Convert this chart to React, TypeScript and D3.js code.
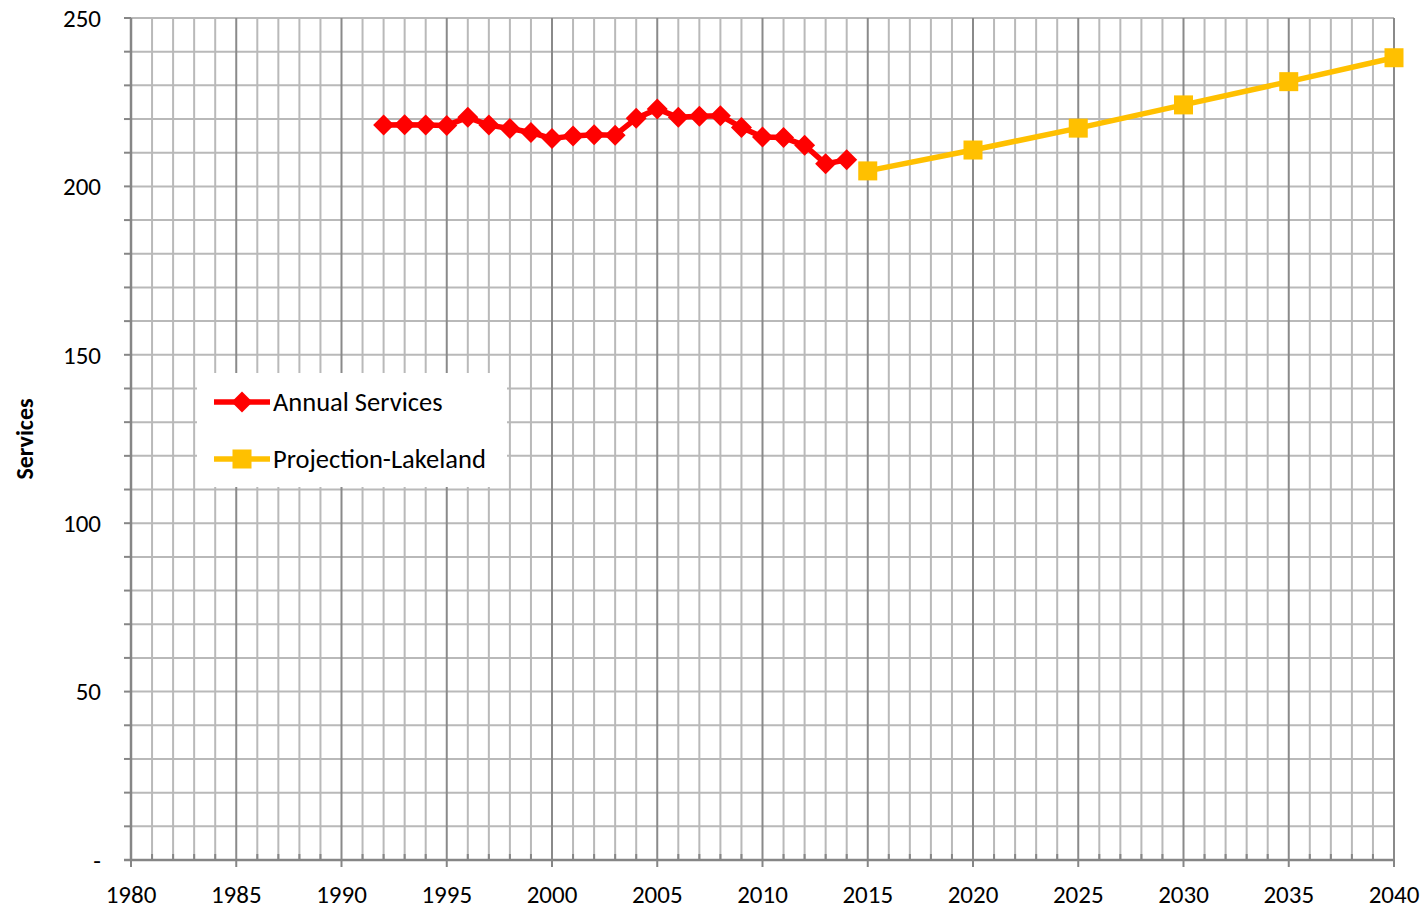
import React from "react";
import * as d3 from "d3";

const annualYears = [1992,1993,1994,1995,1996,1997,1998,1999,2000,2001,2002,2003,2004,2005,2006,2007,2008,2009,2010,2011,2012,2013,2014];
const annualValues = [218.2,218.3,218.2,218.1,220.5,218.2,217.2,216.0,214.2,215.0,215.3,215.2,220.2,223.0,220.5,220.8,221.0,217.5,214.7,214.5,212.2,206.7,207.9];
const projYears = [2015,2020,2025,2030,2035,2040];
const projValues = [204.6,210.8,217.3,224.2,231.1,238.2];
const xTickLabels = [1980,1985,1990,1995,2000,2005,2010,2015,2020,2025,2030,2035,2040];
const yTickValues = [0,50,100,150,200,250];

const W = 1427, H = 912;
const left = 131, right = 1394, top = 18, bottom = 860;
const FONT = "Carlito, Calibri, 'Open Sans', 'Liberation Sans', sans-serif";

export default function App() {
  const x = d3.scaleLinear().domain([1980, 2040]).range([left, right]);
  const y = d3.scaleLinear().domain([0, 250]).range([bottom, top]);
  const line = d3.line<[number, number]>().x(d => x(d[0])).y(d => y(d[1]));
  const years = d3.range(1980, 2041);
  const yMinor = d3.range(0, 251, 10);
  const annual: [number, number][] = annualYears.map((yr, i) => [yr, annualValues[i]]);
  const proj: [number, number][] = projYears.map((yr, i) => [yr, projValues[i]]);
  const diamond = (cx: number, cy: number, r: number) => `M${cx},${cy - r}L${cx + r},${cy}L${cx},${cy + r}L${cx - r},${cy}Z`;

  return (
    <svg width={W} height={H} style={{ position: "absolute", left: 0, top: 0, background: "#fff" }} fontFamily={FONT}>
      <rect x={0} y={0} width={W} height={H} fill="#fff" />
      {yMinor.map(v => (
        <line key={"h" + v} x1={left} x2={right} y1={y(v)} y2={y(v)} stroke="#b9b9b9" strokeWidth={2} />
      ))}
      {years.filter(yr => yr % 5 !== 0).map(yr => (
        <line key={"v" + yr} x1={x(yr)} x2={x(yr)} y1={top} y2={bottom} stroke="#b9b9b9" strokeWidth={2} />
      ))}
      {years.filter(yr => yr % 5 === 0).map(yr => (
        <line key={"V" + yr} x1={x(yr)} x2={x(yr)} y1={top} y2={bottom} stroke="#8a8a8a" strokeWidth={2} />
      ))}
      {yMinor.map(v => (
        <line key={"yt" + v} x1={left - 7} x2={left} y1={y(v)} y2={y(v)} stroke="#868686" strokeWidth={2} />
      ))}
      {years.map(yr => (
        <line key={"xt" + yr} x1={x(yr)} x2={x(yr)} y1={yr % 5 === 0 ? bottom + 7 : bottom - 6} y2={bottom} stroke="#868686" strokeWidth={2} />
      ))}
      <line x1={left} x2={left} y1={top} y2={bottom} stroke="#868686" strokeWidth={2.5} />
      <line x1={left - 7} x2={right} y1={bottom} y2={bottom} stroke="#868686" strokeWidth={2.5} />
      {yTickValues.map(v => (
        <text key={"yl" + v} x={101} y={y(v)} dy="0.35em" textAnchor="end" fontSize={25} fill="#000">{v === 0 ? "-" : v}</text>
      ))}
      {xTickLabels.map(v => (
        <text key={"xl" + v} x={x(v)} y={894} dy="0.35em" textAnchor="middle" fontSize={25} fill="#000">{v}</text>
      ))}
      <text transform={`translate(33,${y(125)}) rotate(-90)`} textAnchor="middle" fontSize={24} fontWeight="bold" fill="#000">Services</text>
      <path d={line(annual) || ""} fill="none" stroke="#ff0000" strokeWidth={5.5} strokeLinejoin="round" />
      {annual.map((d, i) => (
        <path key={"a" + i} d={diamond(x(d[0]), y(d[1]), 10.5)} fill="#ff0000" />
      ))}
      <path d={line(proj) || ""} fill="none" stroke="#ffc000" strokeWidth={5.5} strokeLinejoin="round" />
      {proj.map((d, i) => (
        <rect key={"p" + i} x={x(d[0]) - 9.5} y={y(d[1]) - 9.5} width={19} height={19} fill="#ffc000" />
      ))}
      <rect x={197} y={373} width={310} height={114} fill="#fff" />
      <line x1={214} x2={270} y1={402} y2={402} stroke="#ff0000" strokeWidth={5.5} />
      <path d={diamond(242, 402, 10.5)} fill="#ff0000" />
      <text x={273} y={402} dy="0.35em" fontSize={26.5} fill="#000">Annual Services</text>
      <line x1={214} x2={270} y1={459} y2={459} stroke="#ffc000" strokeWidth={5.5} />
      <rect x={232.5} y={449.5} width={19} height={19} fill="#ffc000" />
      <text x={273} y={459} dy="0.35em" fontSize={26.5} fill="#000">Projection-Lakeland</text>
    </svg>
  );
}
